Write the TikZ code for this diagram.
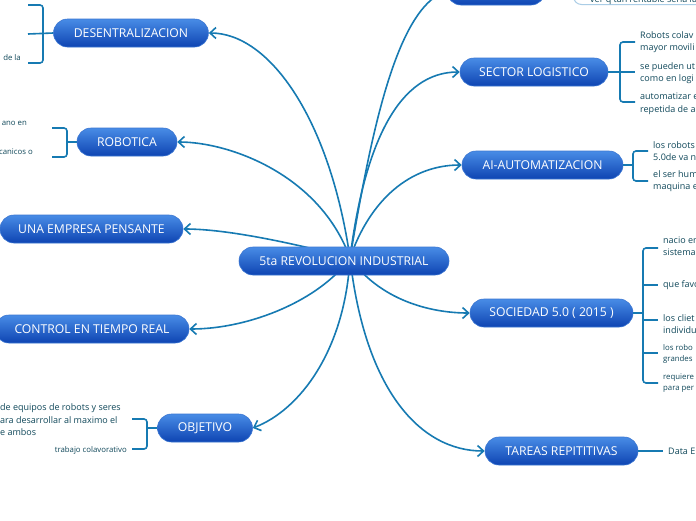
\documentclass[tikz,border=0pt]{standalone}
\usepackage{fontspec}
\setmainfont{Open Sans}
\usetikzlibrary{arrows.meta,backgrounds}
\definecolor{lnk}{RGB}{22,122,178}
\definecolor{txt}{RGB}{16,72,90}
\definecolor{ntop}{RGB}{72,140,230}
\definecolor{nbot}{RGB}{14,68,178}
\definecolor{nbord}{RGB}{58,118,210}
\definecolor{noteb}{RGB}{170,205,230}
\begin{document}
\begin{tikzpicture}[x=1pt,y=-1pt,
  topic/.style={rounded corners=14pt, top color=ntop, bottom color=nbot, draw=nbord, line width=0.6pt,
    text=white, font=\fontsize{12.2}{14}\selectfont, minimum height=28pt, inner sep=0pt},
  leaf/.style={text=txt, font=\fontsize{9}{12.5}\selectfont, align=left, inner sep=0pt, anchor=west},
  leafs/.style={leaf, font=\fontsize{7.8}{11}\selectfont},
  link/.style={draw=lnk, line width=1.6pt, -{Straight Barb[length=6pt,width=11pt]}},
  brk/.style={draw=lnk, line width=1.6pt, rounded corners=3pt}]
\useasboundingbox (0,0) rectangle (696,520);

% main topics
\node[topic, minimum width=155pt] (des) at (131,33) {DESENTRALIZACION};
\node[topic, minimum width=100pt] (rob) at (127,142) {ROBOTICA};
\node[topic, minimum width=183pt] (emp) at (91.5,229) {UNA EMPRESA PENSANTE};
\node[topic, minimum width=194pt] (ctl) at (92,329) {CONTROL EN TIEMPO REAL};
\node[topic, minimum width=95pt] (obj) at (205,428) {OBJETIVO};
\node[topic, minimum width=210pt] (rev) at (344,261) {5ta REVOLUCION INDUSTRIAL};
\node[topic, minimum width=98pt] (topn) at (496,-9) {};
\node[topic, minimum width=148pt] (sec) at (534,72) {SECTOR LOGISTICO};
\node[topic, minimum width=161pt] (ai) at (542.5,165) {AI-AUTOMATIZACION};
\node[topic, minimum width=163pt] (soc) at (551.5,313) {SOCIEDAD 5.0 ( 2015 )};
\node[topic, minimum width=153pt] (tar) at (561.5,451) {TAREAS REPITITIVAS};

% note box at top right
\node[draw=noteb, fill=white, line width=1pt, rounded corners=8pt, minimum height=24pt,
  minimum width=140pt, anchor=south west, inner sep=0pt] (note) at (573,5) {};
\node[leaf, anchor=base west] (notet) at (590,2.5) {ver q tan rentable seria la p};

% right leaves
\node[leaf] (s1) at (640,42) {Robots colav\\mayor movili};
\node[leaf] (s2) at (640,73) {se pueden ut\\como en logi};
\node[leaf] (s3) at (640,104) {automatizar e\\repetida de a};
\node[leaf] (a1) at (653,151) {los robots\\5.0de va n};
\node[leaf] (a2) at (653,181) {el ser hum\\maquina e};
\node[leaf] (c1) at (663,246) {nacio en\\sistema};
\node[leaf] (c2) at (663,285) {que favo};
\node[leaf] (c3) at (663,324) {los cliet\\individu};
\node[leafs] (c4) at (663,354) {los robo\\grandes};
\node[leafs] (c5) at (663,383) {requiere\\para per};
\node[leaf] (t1) at (668,451) {Data E};

% left leaves
\node[leafs, anchor=east] (d1) at (21,58) {de la};
\node[leafs, anchor=east] (r1) at (27,123) {ano en};
\node[leafs, anchor=east] (r2) at (33,152) {canicos o};
\node[leaf] (o1) at (0,420) {de equipos de robots y seres\\ara desarrollar al maximo el\\e ambos};
\node[leafs, anchor=east] (o2) at (127,450) {trabajo colavorativo};

% brackets
\draw[brk] (28,5) -- (43,5) -- (43,63) -- (28,63);
\draw[brk] (28,34) -- (des.west);
\coordinate (br) at (67,142);
\draw[brk] (52,128) -- (67,128) -- (67,157) -- (52,157);
\draw[brk] (br) -- (rob.west);
\coordinate (bo) at (147,428);
\draw[brk] (132,419) -- (147,419) -- (147,449) -- (132,449);
\draw[brk] (bo) -- (obj.west);

\coordinate (bs) at (620,72);
\draw[brk] (sec.east) -- (bs) -- (635,72);
\draw[brk] (635,42) -- (620,42) -- (620,102) -- (635,102);
\coordinate (ba) at (633,165);
\draw[brk] (ai.east) -- (ba);
\draw[brk] (648,151) -- (633,151) -- (633,181) -- (648,181);
\coordinate (bc) at (643,313);
\draw[brk] (soc.east) -- (bc);
\draw[brk] (658,248) -- (643,248) -- (643,383) -- (658,383);
\draw[brk] (643,285) -- (658,285);
\draw[brk] (643,320) -- (658,320);
\draw[brk] (643,353) -- (658,353);
\coordinate (bt) at (663,451);
\draw[brk] (tar.east) -- (bt);

% connectors
\coordinate (hub) at (350,258);
\begin{scope}[on background layer]
\fill[white] (0,0) rectangle (696,520);
\draw[link] (hub) .. controls (330,120) and (270,33) .. (des.east);
\draw[link] (hub) .. controls (320,175) and (230,142) .. (rob.east);
\draw[link] (hub) .. controls (300,245) and (230,229) .. (emp.east);
\draw[link] (hub) .. controls (320,300) and (250,329) .. (ctl.east);
\draw[link] (hub) .. controls (345,350) and (300,410) .. (obj.east);
\draw[link] (hub) .. controls (370,140) and (395,10) .. (topn.west);
\draw[link] (hub) .. controls (365,140) and (400,72) .. (sec.west);
\draw[link] (hub) .. controls (370,200) and (410,165) .. (ai.west);
\draw[link] (hub) .. controls (380,300) and (430,313) .. (soc.west);
\draw[link] (hub) .. controls (365,390) and (420,451) .. (tar.west);
\end{scope}
\end{tikzpicture}
\end{document}
